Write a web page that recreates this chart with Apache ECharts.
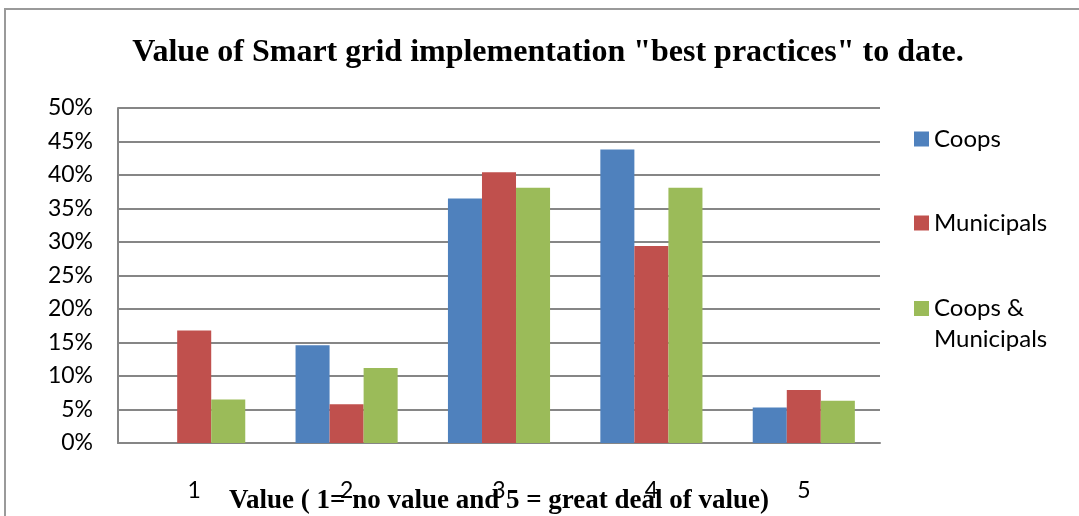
<!DOCTYPE html>
<html>
<head>
<meta charset="utf-8">
<script src="https://cdn.jsdelivr.net/npm/echarts@6/dist/echarts.min.js"></script>
<style>
  html, body { margin: 0; padding: 0; background: #fff; }
  #frame {
    position: absolute; left: 4px; top: 8px;
    width: 1100px; height: 540px;
    border-left: 2px solid #9a9a9a; border-top: 2px solid #9a9a9a;
  }
  #main { position: absolute; left: 0; top: 0; width: 1079px; height: 516px; }
</style>
</head>
<body>
<div id="frame"></div>
<div id="main"></div>
<script>
// 数据
const categories = ['1', '2', '3', '4', '5']
const coops = [0, 14.6, 36.5, 43.8, 5.3]
const municipals = [16.8, 5.8, 40.4, 29.4, 7.9]
const both = [6.5, 11.2, 38.1, 38.1, 6.3]

const chart = echarts.init(document.getElementById('main'))

const legendText = {
  fontFamily: 'Lato',
  fontSize: 24,
  color: '#000'
}

const option = {
  animation: false,
  title: {
    text: 'Value of Smart grid implementation "best practices" to date.',
    left: 543,
    top: 32,
    textAlign: 'center',
    textStyle: {
      fontFamily: 'Liberation Serif',
      fontWeight: 'bold',
      fontSize: 32,
      color: '#000'
    }
  },
  // 三个图例分开放，方便控制位置
  legend: [
    {
      data: ['Coops'], left: 909, top: 122, orient: 'vertical',
      icon: 'rect', itemWidth: 15, itemHeight: 15, itemGap: 6, textStyle: legendText
    },
    {
      data: ['Municipals'], left: 909, top: 206, orient: 'vertical',
      icon: 'rect', itemWidth: 15, itemHeight: 15, itemGap: 6, textStyle: legendText
    },
    {
      data: ['Coops & Municipals'], left: 909, top: 257, orient: 'vertical',
      icon: 'rect', itemWidth: 15, itemHeight: 15, itemGap: 6,
      // 空的第一行让方块对齐 "Coops &"
      formatter: () => ' \nCoops &\nMunicipals',
      textStyle: Object.assign({ lineHeight: 31 }, legendText)
    }
  ],
  grid: {
    left: 118,
    right: 199,
    top: 108,
    bottom: 73,
    outerBoundsMode: 'none'
  },
  xAxis: {
    type: 'category',
    data: categories,
    name: 'Value ( 1= no value and 5 = great deal of value)',
    nameLocation: 'middle',
    nameGap: 45,
    nameMoveOverlap: false,
    nameTextStyle: {
      fontFamily: 'Liberation Serif',
      fontWeight: 'bold',
      fontSize: 27,
      color: '#000'
    },
    axisLine: { lineStyle: { color: '#868686', width: 2 } },
    axisTick: { show: false },
    axisLabel: {
      margin: 36,
      fontFamily: 'Lato',
      fontSize: 23,
      color: '#000'
    }
  },
  yAxis: {
    type: 'value',
    min: 0,
    max: 50,
    interval: 5,
    axisLine: { show: true, lineStyle: { color: '#868686', width: 2 } },
    axisTick: { show: false },
    axisLabel: {
      margin: 25,
      formatter: '{value}%',
      fontFamily: 'Lato',
      fontSize: 23,
      color: '#000'
    },
    splitLine: { lineStyle: { color: '#868686', width: 2 } }
  },
  series: [
    {
      name: 'Coops', type: 'bar', data: coops,
      barGap: 0, barCategoryGap: '33%',
      itemStyle: { color: '#4F81BD' }
    },
    {
      name: 'Municipals', type: 'bar', data: municipals,
      itemStyle: { color: '#C0504D' }
    },
    {
      name: 'Coops & Municipals', type: 'bar', data: both,
      itemStyle: { color: '#9BBB59' }
    }
  ]
}

chart.setOption(option)
</script>
</body>
</html>
